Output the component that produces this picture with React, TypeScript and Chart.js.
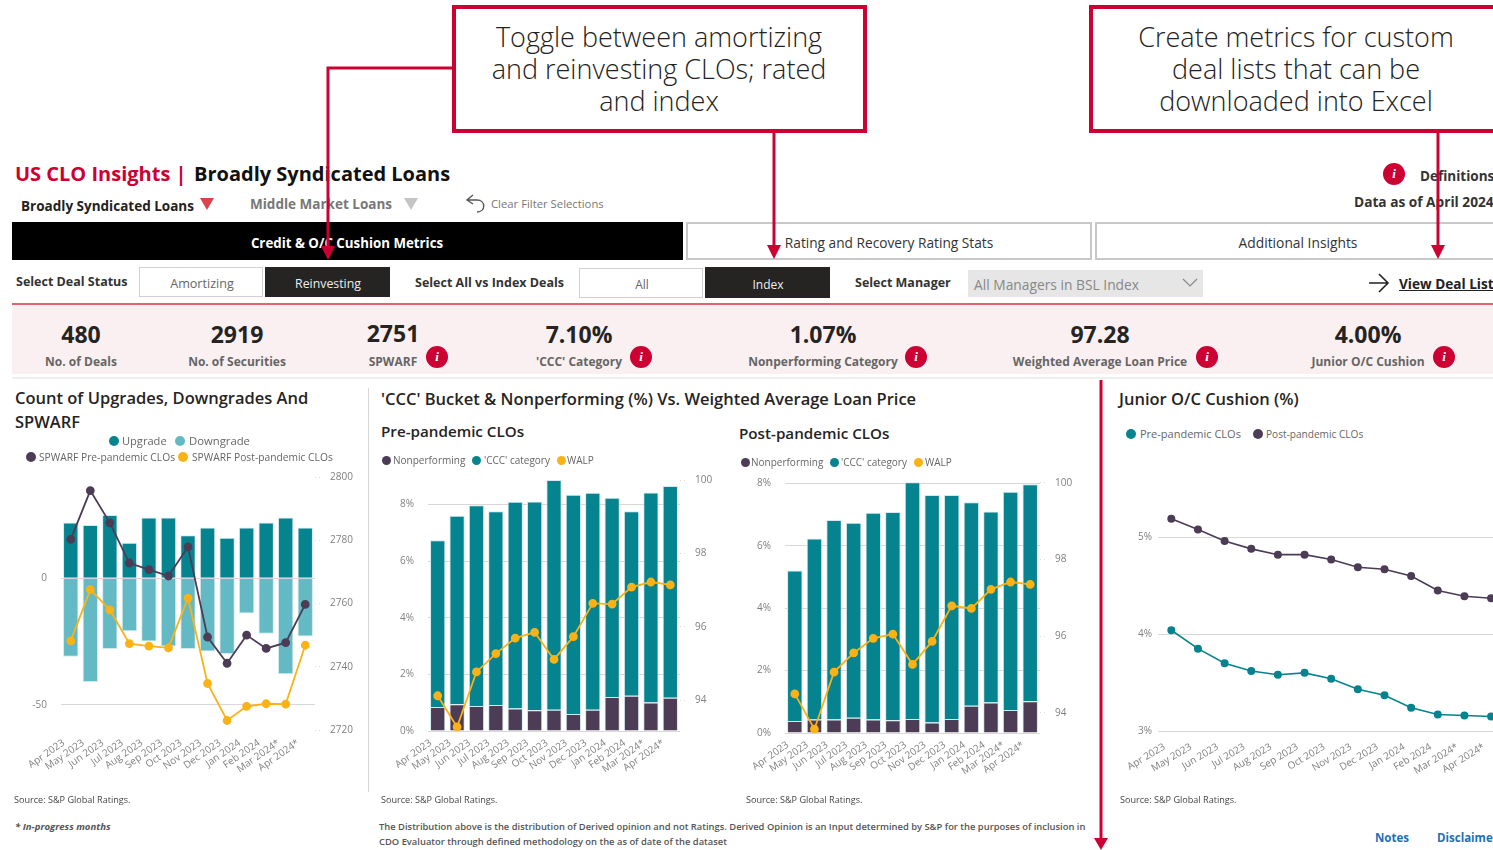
import React, { useEffect, useRef } from "react";
import { Chart, registerables } from "chart.js";

Chart.register(...registerables);

const months = ["Apr 2023","May 2023","Jun 2023","Jul 2023","Aug 2023","Sep 2023","Oct 2023","Nov 2023","Dec 2023","Jan 2024","Feb 2024","Mar 2024*","Apr 2024*"];

const upgrades = [22,21,25,14,24,24,17,20,16,20,22,24,20];
const downgrades = [-31,-41,-28,-21,-25,-27,-28,-29,-30,-14,-22,-38,-23];
const spwarfPre = [2780.3,2795.7,2785.5,2772.8,2770.7,2768.7,2777.9,2749.4,2741.1,2750,2745.8,2747.6,2759.7];
const spwarfPost = [2748.2,2764.4,2758,2747.3,2746.5,2746,2761.7,2734.7,2723,2727.5,2728.3,2728.2,2746.8];

const preNonperforming = [0.85,0.94,0.88,0.92,0.79,0.73,0.75,0.60,0.75,1.20,1.24,1.01,1.17];
const preCcc = [5.88,6.66,7.09,6.84,7.30,7.37,8.11,7.74,7.66,7.03,6.52,7.41,7.48];
const preWalp = [94.12,93.27,94.77,95.27,95.69,95.85,95.11,95.73,96.64,96.62,97.08,97.22,97.14];

const postNonperforming = [0.385,0.43,0.43,0.49,0.43,0.41,0.45,0.34,0.45,0.87,0.98,0.74,1.02];
const postCcc = [4.83,5.81,6.40,6.25,6.63,6.68,7.59,7.29,7.18,6.53,6.12,7.0,6.96];
const postWalp = [94.49,93.57,95.06,95.56,95.94,96.05,95.26,95.86,96.79,96.72,97.22,97.41,97.35];

const cushionPost = [5.19,5.08,4.96,4.88,4.82,4.82,4.77,4.69,4.67,4.60,4.45,4.39,4.37];
const cushionPre = [4.04,3.85,3.70,3.62,3.58,3.60,3.54,3.43,3.37,3.24,3.17,3.16,3.15];

const countTicks = [-50,0];
const spwarfTicks = [2720,2740,2760,2780,2800];
const pctTicksPre = [0,2,4,6,8];
const walpTicks = [94,96,98,100];
const cushionTicks = [3,4,5];

const FONT = '"Open Sans", sans-serif';
const RED = "#cc0033";
const TEAL = "#05838f";
const LIGHT_TEAL = "#63bac4";
const PURPLE = "#4c3c55";
const AMBER = "#fbb216";
const TICK = "#808080";
const GRID = "#d8d8d8";
const EDGE = "rgba(205,232,236,0.9)";

type Box = { l: number; t: number; w: number; h: number; pl: number; pt: number; pr: number; pb: number };

const useTicks = (vals: number[]) => (s: any) => { s.ticks = vals.map((value) => ({ value })); };

function leftAxis(b: Box, min: number, max: number, vals: number[], cb: (v: any) => string, pad = 14) {
  return {
    position: "left", min, max, stacked: true,
    afterBuildTicks: useTicks(vals),
    afterFit: (s: any) => { s.width = b.pl - b.l; },
    border: { display: false },
    grid: { color: GRID, drawTicks: false, borderDash: [1, 3], tickBorderDash: [1, 3] },
    ticks: { padding: pad, color: TICK, font: { family: FONT, size: 10 }, callback: cb },
  };
}
function rightAxis(b: Box, min: number, max: number, vals: number[]) {
  return {
    position: "right", min, max,
    afterBuildTicks: useTicks(vals),
    afterFit: (s: any) => { s.width = b.l + b.w - b.pr; },
    border: { display: false },
    grid: { drawOnChartArea: false, drawTicks: true, tickLength: 8, tickColor: GRID, tickBorderDash: [1, 3] },
    ticks: { padding: 7, color: TICK, font: { family: FONT, size: 10 }, callback: (v: any) => String(v) },
  };
}
function xAxis(b: Box, pad: number, rot = 35) {
  return {
    stacked: true, offset: true,
    afterFit: (s: any) => { s.height = b.t + b.h - b.pb; },
    border: { display: false },
    grid: { display: false, drawTicks: false },
    ticks: { padding: pad, minRotation: rot, maxRotation: rot, labelOffset: -7, autoSkip: false, color: TICK, font: { family: FONT, size: 10 } },
  };
}
const bar = (label: string, data: number[], color: string) => ({
  type: "bar", label, data, backgroundColor: color, borderColor: EDGE, borderWidth: 1,
  categoryPercentage: 1, barPercentage: 0.79, order: 2, yAxisID: "y",
});
const line = (label: string, data: number[], color: string, yAxisID: string, r = 3.5, w = 1.8) => ({
  type: "line", label, data, borderColor: color, backgroundColor: color, pointBackgroundColor: color,
  pointBorderColor: color, pointRadius: r, borderWidth: w, tension: 0, order: 1, yAxisID,
});

function cfg(b: Box, datasets: any[], scales: any) {
  return {
    type: "bar",
    data: { labels: months, datasets },
    options: {
      responsive: false, maintainAspectRatio: false, animation: false,
      layout: { padding: { top: b.pt - b.t, left: 0, right: 0, bottom: 0 } },
      plugins: { legend: { display: false }, tooltip: { enabled: false }, title: { display: false } },
      scales,
    },
  } as any;
}

const box1: Box = { l: 20, t: 450, w: 345, h: 340, pl: 61, pt: 477, pr: 315, pb: 730 };
const box2: Box = { l: 385, t: 453, w: 335, h: 337, pl: 428, pt: 480, pr: 680, pb: 731 };
const box3: Box = { l: 745, t: 455, w: 335, h: 335, pl: 785, pt: 482, pr: 1040, pb: 733 };
const box4: Box = { l: 1110, t: 455, w: 400, h: 335, pl: 1158, pt: 482, pr: 1499, pb: 731 };

const pct = (v: any) => `${v}%`;

function ChartBox({ box, make }: { box: Box; make: () => any }) {
  const ref = useRef<HTMLCanvasElement>(null);
  useEffect(() => {
    const c = new Chart(ref.current as HTMLCanvasElement, make());
    return () => c.destroy();
  }, []);
  return (
    <div style={{ position: "absolute", left: box.l, top: box.t, width: box.w, height: box.h }}>
      <canvas ref={ref} width={box.w} height={box.h} style={{ display: "block", width: box.w, height: box.h }} />
    </div>
  );
}

const makeCounts = () => cfg(box1, [
  bar("Upgrade", upgrades, TEAL),
  bar("Downgrade", downgrades, LIGHT_TEAL),
  line("SPWARF Pre-pandemic CLOs", spwarfPre, PURPLE, "y2"),
  line("SPWARF Post-pandemic CLOs", spwarfPost, AMBER, "y2"),
], {
  x: xAxis(box1, 7),
  y: leftAxis(box1, -60, 40, countTicks, (v) => String(v)),
  y2: rightAxis(box1, 2720, 2800, spwarfTicks),
});
const makePre = () => cfg(box2, [
  bar("Nonperforming", preNonperforming, PURPLE),
  bar("'CCC' category", preCcc, TEAL),
  line("WALP", preWalp, AMBER, "y2"),
], {
  x: xAxis(box2, 6),
  y: leftAxis(box2, 0, 8.86, pctTicksPre, pct),
  y2: rightAxis(box2, 93.16, 100, walpTicks),
});
const makePost = () => cfg(box3, [
  bar("Nonperforming", postNonperforming, PURPLE),
  bar("'CCC' category", postCcc, TEAL),
  line("WALP", postWalp, AMBER, "y2"),
], {
  x: xAxis(box3, 6),
  y: leftAxis(box3, 0, 8.05, pctTicksPre, pct),
  y2: rightAxis(box3, 93.47, 100.02, walpTicks),
});
const makeCushion = () => cfg(box4, [
  line("Pre-pandemic CLOs", cushionPre, TEAL, "y", 3.2, 1.6),
  line("Post-pandemic CLOs", cushionPost, PURPLE, "y", 3.2, 1.6),
], {
  x: { ...xAxis(box4, 10, 31), stacked: false },
  y: { ...leftAxis(box4, 3, 5.57, cushionTicks, pct, 6), stacked: false },
});

type TP = { x: number; y: number; s: number; c?: string; w?: number; a?: "l" | "c" | "r"; i?: boolean; u?: boolean; children: any };
function T({ x, y, s, c = "#222", w = 400, a = "l", i, u, children }: TP) {
  return (
    <div style={{
      position: "absolute", left: x, top: y - 12, height: 24, lineHeight: "24px", fontSize: s, color: c, fontWeight: w,
      whiteSpace: "nowrap", fontStyle: i ? "italic" : "normal", textDecoration: u ? "underline" : "none",
      transform: a === "c" ? "translateX(-50%)" : a === "r" ? "translateX(-100%)" : undefined,
    }}>{children}</div>
  );
}
function R({ x, y, w, h, bg, b }: { x: number; y: number; w: number; h: number; bg?: string; b?: string }) {
  return <div style={{ position: "absolute", left: x, top: y, width: w, height: h, background: bg, border: b, boxSizing: "border-box" }} />;
}
function Info({ x, y }: { x: number; y: number }) {
  return (
    <div style={{ position: "absolute", left: x - 11, top: y - 11, width: 22, height: 22, borderRadius: 11, background: RED, color: "#fff",
      textAlign: "center", lineHeight: "22px", fontFamily: '"Liberation Serif", serif', fontStyle: "italic", fontWeight: 700, fontSize: 13 }}>i</div>
  );
}
function Dot({ x, y, c, r = 5 }: { x: number; y: number; c: string; r?: number }) {
  return <div style={{ position: "absolute", left: x - r, top: y - r, width: r * 2, height: r * 2, borderRadius: r, background: c }} />;
}
function Tri({ x, y, w, h, c }: { x: number; y: number; w: number; h: number; c: string }) {
  return <div style={{ position: "absolute", left: x, top: y, width: 0, height: 0, borderLeft: `${w / 2}px solid transparent`, borderRight: `${w / 2}px solid transparent`, borderTop: `${h}px solid ${c}` }} />;
}
function Kpi({ x, value, label, vy = 334 }: { x: number; value: string; label: string; vy?: number }) {
  return (
    <>
      <T x={x} y={vy} s={23} w={700} a="c" c="#252423">{value}</T>
      <T x={x} y={362} s={12} w={700} a="c" c="#666">{label}</T>
    </>
  );
}
const Src = ({ x }: { x: number }) => <T x={x} y={799.5} s={9.1} c="#444">Source: S&amp;P Global Ratings.</T>;
const LEG = "#666";

export default function App() {
  return (
    <div style={{ position: "absolute", left: 0, top: 0, width: 1493, height: 850, overflow: "hidden", background: "#fff", fontFamily: FONT }}>
      {/* header */}
      <T x={15} y={174} s={20} w={700} c={RED}>US CLO Insights |</T>
      <T x={194} y={174} s={20} w={700} c="#111">Broadly Syndicated Loans</T>
      <T x={21} y={206} s={13.5} w={700} c="#222">Broadly Syndicated Loans</T>
      <Tri x={200} y={198} w={15} h={12} c="#d9434f" />
      <T x={250} y={204} s={13.5} w={700} c="#777">Middle Market Loans</T>
      <Tri x={404} y={198} w={14} h={12} c="#c4c4c4" />
      <svg style={{ position: "absolute", left: 464, top: 193, width: 24, height: 22 }} viewBox="0 0 24 22">
        <path d="M9 2 L3 7 L9 11 M3 7 H13 C22 7 22 19 13 19" fill="none" stroke="#555" strokeWidth="1.4" />
      </svg>
      <T x={491} y={204} s={11.3} c="#777">Clear Filter Selections</T>
      <Info x={1394} y={174} />
      <T x={1420} y={176} s={13.5} w={700} c="#333">Definitions</T>
      <T x={1354} y={202} s={13.7} w={700} c="#333">Data as of April 2024</T>

      {/* tabs */}
      <R x={12} y={222} w={671} h={38} bg="#000" />
      <T x={347} y={243} s={13.3} w={700} a="c" c="#fff">Credit &amp; O/C Cushion Metrics</T>
      <R x={686} y={222} w={406} h={38} b="2px solid #c8c8c8" />
      <T x={889} y={243} s={13.7} a="c" c="#333">Rating and Recovery Rating Stats</T>
      <R x={1095} y={222} w={410} h={38} b="2px solid #c8c8c8" />
      <T x={1298} y={243} s={13.8} a="c" c="#333">Additional Insights</T>

      {/* filters */}
      <T x={16} y={282} s={12.5} w={700} c="#333">Select Deal Status</T>
      <R x={139} y={267} w={124} h={30} b="1.5px solid #d0d0d0" />
      <T x={202} y={284} s={12.6} a="c" c="#666">Amortizing</T>
      <R x={265} y={267} w={125} h={30} bg="#252423" />
      <T x={328} y={284} s={12.3} a="c" c="#eee">Reinvesting</T>
      <T x={415} y={283} s={12.5} w={700} c="#333">Select All vs Index Deals</T>
      <R x={579} y={268} w={124} h={30} b="1.5px solid #d0d0d0" />
      <T x={642} y={285} s={12} a="c" c="#666">All</T>
      <R x={705} y={267} w={125} h={31} bg="#252423" />
      <T x={768} y={285} s={12} a="c" c="#eee">Index</T>
      <T x={855} y={283} s={12.5} w={700} c="#333">Select Manager</T>
      <R x={968} y={270} w={235} h={27} bg="#e6e6e6" />
      <T x={974} y={285} s={13.8} c="#888">All Managers in BSL Index</T>
      <svg style={{ position: "absolute", left: 1182, top: 278, width: 16, height: 10 }} viewBox="0 0 16 10">
        <path d="M1 1 L8 8 L15 1" fill="none" stroke="#888" strokeWidth="1.2" />
      </svg>
      <svg style={{ position: "absolute", left: 1368, top: 272, width: 22, height: 22 }} viewBox="0 0 22 22">
        <path d="M1 11 H19 M11 2 L20 11 L11 20" fill="none" stroke="#222" strokeWidth="1.6" />
      </svg>
      <T x={1399} y={284} s={13.6} w={700} u c="#222">View Deal List</T>

      {/* KPI strip */}
      <R x={12} y={305} w={1481} h={69} bg="#faf0f1" />
      <R x={12} y={303} w={1481} h={2} bg="#e0636f" />
      <R x={12} y={377} w={1481} h={2} bg="#eeeeee" />
      <Kpi x={81} value="480" label="No. of Deals" />
      <Kpi x={237} value="2919" label="No. of Securities" />
      <Kpi x={393} value="2751" label="SPWARF" vy={333} />
      <Info x={437} y={357} />
      <Kpi x={579} value="7.10%" label="'CCC' Category" />
      <Info x={641} y={357} />
      <Kpi x={823} value="1.07%" label="Nonperforming Category" />
      <Info x={916} y={357} />
      <Kpi x={1100} value="97.28" label="Weighted Average Loan Price" />
      <Info x={1207} y={357} />
      <Kpi x={1368} value="4.00%" label="Junior O/C Cushion" />
      <Info x={1444} y={357} />

      {/* panels */}
      <R x={368} y={388} w={1} h={404} bg="#d8d8d8" />

      <ChartBox box={box1} make={makeCounts} />
      <ChartBox box={box2} make={makePre} />
      <ChartBox box={box3} make={makePost} />
      <ChartBox box={box4} make={makeCushion} />

      <T x={15} y={398} s={16.5} w={600} c="#252423">Count of Upgrades, Downgrades And</T>
      <T x={15} y={422} s={16.5} w={600} c="#252423">SPWARF</T>
      <T x={381} y={399} s={16.5} w={600} c="#252423">'CCC' Bucket &amp; Nonperforming (%) Vs. Weighted Average Loan Price</T>
      <T x={381} y={431} s={15.2} w={600} c="#252423">Pre-pandemic CLOs</T>
      <T x={739} y={433} s={15.2} w={600} c="#252423">Post-pandemic CLOs</T>
      <T x={1119} y={399} s={16.5} w={600} c="#252423">Junior O/C Cushion (%)</T>

      {/* legends */}
      <Dot x={114} y={441} c={TEAL} /><T x={122} y={441} s={11.1} c={LEG}>Upgrade</T>
      <Dot x={180} y={441} c={LIGHT_TEAL} /><T x={189} y={441} s={11.3} c={LEG}>Downgrade</T>
      <Dot x={31} y={457} c={PURPLE} /><T x={39} y={457} s={10.25} c={LEG}>SPWARF Pre-pandemic CLOs</T>
      <Dot x={183} y={457} c={AMBER} /><T x={192} y={457} s={10.25} c={LEG}>SPWARF Post-pandemic CLOs</T>

      <Dot x={386} y={460} c={PURPLE} r={4.5} /><T x={393} y={460} s={10} c={LEG}>Nonperforming</T>
      <Dot x={476} y={460} c={TEAL} r={4.5} /><T x={484} y={460} s={10} c={LEG}>'CCC' category</T>
      <Dot x={561} y={460} c={AMBER} r={4.5} /><T x={567} y={460} s={10} c={LEG}>WALP</T>

      <Dot x={745} y={462} c={PURPLE} r={4.5} /><T x={751} y={462} s={10} c={LEG}>Nonperforming</T>
      <Dot x={834} y={462} c={TEAL} r={4.5} /><T x={841} y={462} s={10} c={LEG}>'CCC' category</T>
      <Dot x={918} y={462} c={AMBER} r={4.5} /><T x={925} y={462} s={10} c={LEG}>WALP</T>

      <Dot x={1131} y={434} c={TEAL} /><T x={1140} y={434} s={11} c={LEG}>Pre-pandemic CLOs</T>
      <Dot x={1258} y={434} c={PURPLE} /><T x={1266} y={434} s={10.1} c={LEG}>Post-pandemic CLOs</T>

      {/* footers */}
      <Src x={14} /><Src x={381} /><Src x={746} /><Src x={1120} />
      <T x={15} y={827} s={9.6} w={700} i c="#555">* In-progress months</T>
      <T x={379} y={827} s={9.4} w={600} c="#555">The Distribution above is the distribution of Derived opinion and not Ratings. Derived Opinion is an Input determined by S&amp;P for the purposes of inclusion in</T>
      <T x={379} y={842} s={9.4} w={600} c="#555">CDO Evaluator through defined methodology on the as of date of the dataset</T>
      <T x={1375} y={838} s={11.5} w={700} c="#1f6fb5">Notes</T>
      <T x={1437} y={838} s={11.5} w={700} c="#1f6fb5">Disclaimer</T>

      {/* callouts */}
      <R x={452} y={5} w={415} h={128} bg="#fff" b={`4px solid ${RED}`} />
      <T x={659} y={37} s={27} w={300} a="c" c="#222">Toggle between amortizing</T>
      <T x={659} y={69} s={27} w={300} a="c" c="#222">and reinvesting CLOs; rated</T>
      <T x={659} y={101} s={27} w={300} a="c" c="#222">and index</T>
      <R x={1089} y={5} w={440} h={128} bg="#fff" b={`4px solid ${RED}`} />
      <T x={1296} y={37} s={27} w={300} a="c" c="#222">Create metrics for custom</T>
      <T x={1296} y={69} s={27} w={300} a="c" c="#222">deal lists that can be</T>
      <T x={1296} y={101} s={27} w={300} a="c" c="#222">downloaded into Excel</T>

      <svg style={{ position: "absolute", left: 0, top: 0, width: 1493, height: 850, pointerEvents: "none" }} viewBox="0 0 1493 850">
        <path d="M452 68 H328 V248" fill="none" stroke={RED} strokeWidth="3" />
        <polygon points="321,246 335,246 328,260" fill={RED} />
        <path d="M774 132 V248" fill="none" stroke={RED} strokeWidth="3" />
        <polygon points="767,245 781,245 774,259" fill={RED} />
        <path d="M1438 132 V248" fill="none" stroke={RED} strokeWidth="3" />
        <polygon points="1431,245 1445,245 1438,259" fill={RED} />
        <path d="M1101 380 V840" fill="none" stroke={RED} strokeWidth="3" />
        <polygon points="1094,838 1108,838 1101,850" fill={RED} />
      </svg>
    </div>
  );
}
